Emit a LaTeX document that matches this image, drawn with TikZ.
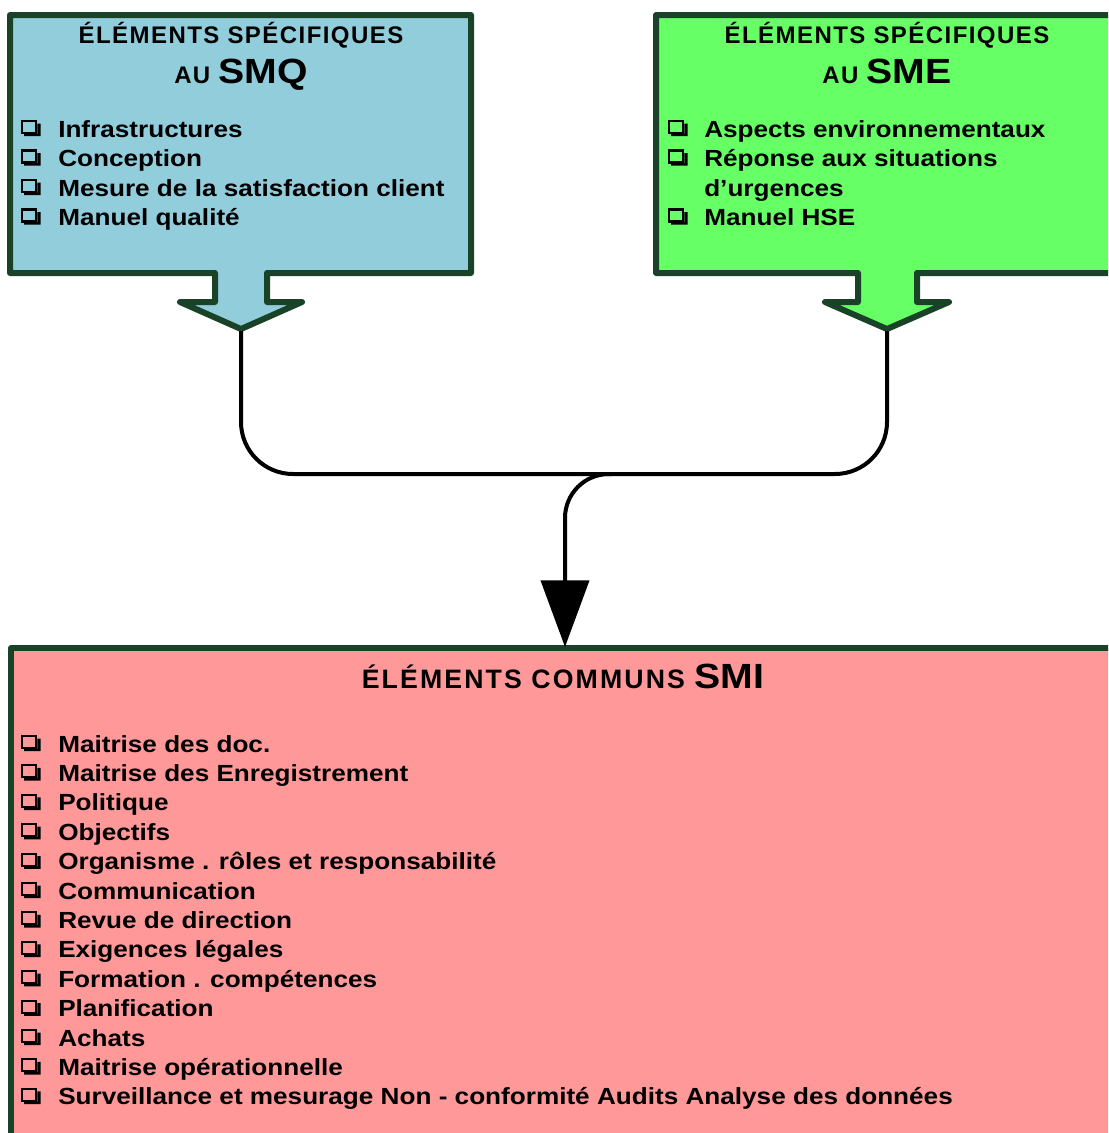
\documentclass[tikz,border=0pt]{standalone}
\usepackage{fontspec}
\setmainfont{Liberation Sans}
\newfontfamily\itemfont{Liberation Sans}[FakeStretch=1.12]
\newfontfamily\titlefont{Liberation Sans}[LetterSpace=6]
\newfontfamily\wtitlefont{Liberation Sans}[LetterSpace=8]
\usetikzlibrary{arrows.meta}
\definecolor{bord}{RGB}{26,66,40}
\definecolor{bluef}{HTML}{92CDDC}
\definecolor{greenf}{HTML}{66FF66}
\definecolor{pinkf}{HTML}{FF9999}
\tikzset{
  panel/.style={draw=bord, line width=4.5pt, line join=round},
  item/.style={anchor=base west, inner sep=0pt, font=\itemfont\bfseries\fontsize{17.5}{21}\selectfont},
  ttl/.style={anchor=base, inner sep=0pt, font=\titlefont\bfseries\fontsize{18}{21}\selectfont},
  wttl/.style={anchor=base, inner sep=0pt, font=\wtitlefont\bfseries\fontsize{20}{24}\selectfont},
  link/.style={draw=black, line width=3pt},
  chk/.pic={
    \draw[line width=1.6pt] (0.8,-16) rectangle (15.3,-4);
    \fill (16.3,-13.5) -- (19.5,-13.5) -- (19.5,-0.8) -- (3,-0.8) -- (3,-3.2) -- (16.3,-3.2) -- cycle;
  }
}
\newcommand\bigpart[1]{{\itemfont\fontsize{26.25}{30}\selectfont #1}}
\begin{document}
\begin{tikzpicture}[x=0.75pt,y=-0.75pt]
\useasboundingbox (0,0) rectangle (1108,1133);
\clip (0,0) rectangle (1108,1133);
% panels
\draw[panel, fill=bluef] (10,15) -- (471,15) -- (471,273) -- (267,273) -- (267,302) -- (302,302)
  -- (241,329) -- (180,302) -- (215,302) -- (215,273) -- (10,273) -- cycle;
\draw[panel, fill=greenf] (656,15) -- (1125,15) -- (1125,273) -- (917,273) -- (917,302) -- (949,302)
  -- (887,329) -- (825,302) -- (858,302) -- (858,273) -- (656,273) -- cycle;
\draw[panel, fill=pinkf] (11,648) rectangle (1125,1145);
% titles
\node[ttl] (smqt1) at (241,43) {ÉLÉMENTS SPÉCIFIQUES};
\node[ttl] (smqt2) at (241,83) {AU \bigpart{SMQ}};
\node[ttl] (smet1) at (887,43) {ÉLÉMENTS SPÉCIFIQUES};
\node[ttl] (smet2) at (887,83) {AU \bigpart{SME}};
\node[wttl] (smit) at (563,688) {ÉLÉMENTS COMMUNS \bigpart{SMI}};
% SMQ items
\foreach \t [count=\i from 0] in {Infrastructures,Conception,Mesure de la satisfaction client,Manuel qualité}{
  \pic at (21,137+29.5*\i) {chk};
  \node[item] (smq\i) at (58,137+29.5*\i) {\t};
}
% SME items
\pic at (668,137) {chk};
\node[item] (sme0) at (704,137) {Aspects environnementaux};
\pic at (668,166.5) {chk};
\node[item] (sme1) at (704,166.5) {Réponse aux situations};
\node[item] (sme2) at (704,196) {d’urgences};
\pic at (668,225.5) {chk};
\node[item] (sme3) at (704,225.5) {Manuel HSE};
% SMI items
\foreach \t [count=\i from 0] in {Maitrise des doc.,Maitrise des Enregistrement,Politique,Objectifs,
  Organisme . rôles et responsabilité,Communication,Revue de direction,Exigences légales,
  Formation . compétences,Planification,Achats,Maitrise opérationnelle,
  Surveillance et mesurage Non - conformité Audits Analyse des données}{
  \pic at (21,752+29.4*\i) {chk};
  \node[item] (smi\i) at (58,752+29.4*\i) {\t};
}
% connectors
\coordinate (smqtip) at (241,331);
\coordinate (smetip) at (887,331);
\coordinate (joint) at (565,474);
\coordinate (branch) at (612,474);
\coordinate (smiin) at (565,647);
\draw[link, rounded corners=39pt] (smqtip) |- (joint) -| (smetip);
\draw[link, rounded corners=33pt, -{Triangle[length=50pt,width=36pt]}] (branch) -- (joint) -- (smiin);
\end{tikzpicture}
\end{document}
